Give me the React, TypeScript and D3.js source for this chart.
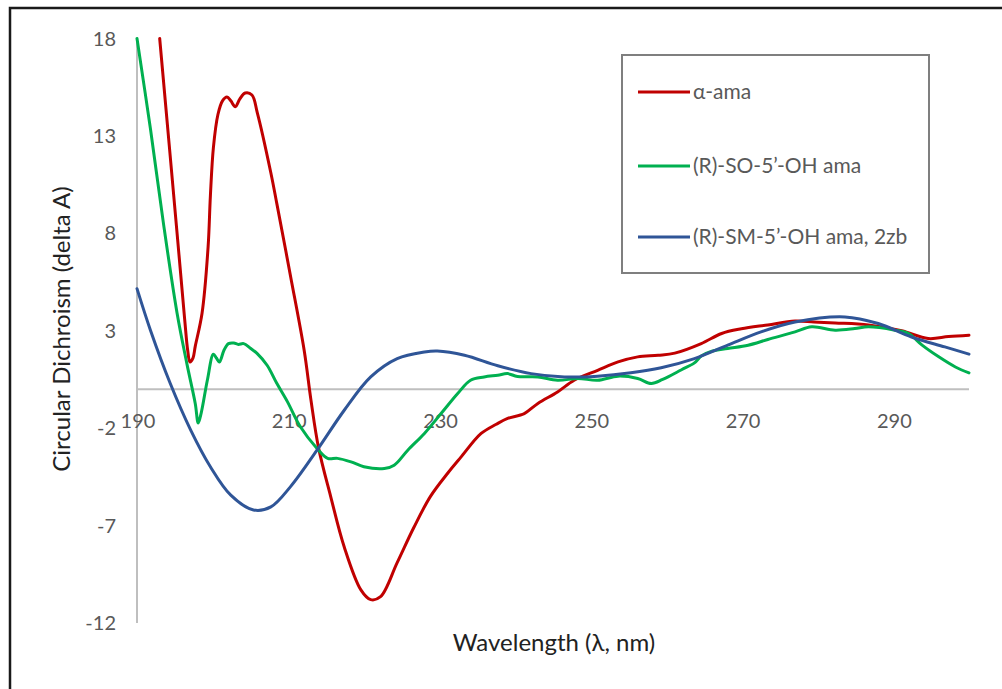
import React from 'react';
import * as d3 from 'd3';

// wavelength (nm) / CD value pairs
const redNm = [193.0, 195.3, 196.3, 196.7, 197.0, 197.4, 197.7, 198.6, 199.4, 199.7, 200.1, 200.7, 201.3, 201.9, 202.4, 203.0, 203.6, 204.3, 205.2, 205.9, 207.7, 208.5, 210.3, 212.1, 213.0, 214.0, 215.6, 217.4, 219.6, 220.9, 222.2, 224.4, 226.6, 228.8, 231.1, 232.8, 235.5, 237.5, 239.0, 241.2, 243.0, 245.6, 247.8, 250.9, 253.6, 256.2, 258.9, 261.1, 264.6, 267.3, 269.9, 273.4, 277.0, 279.5, 282.3, 286.7, 291.1, 294.6, 297.3, 300.0];
const redVal = [18.0, 8.0, 3.6, 2.0, 1.4, 1.6, 2.2, 3.9, 7.3, 9.9, 12.4, 14.1, 14.8, 15.0, 14.8, 14.5, 14.9, 15.2, 15.1, 14.2, 11.1, 9.5, 5.8, 2.0, -0.56, -3.0, -5.5, -8.1, -10.3, -10.8, -10.65, -8.9, -7.1, -5.5, -4.3, -3.5, -2.27, -1.8, -1.5, -1.25, -0.73, -0.14, 0.46, 0.97, 1.4, 1.66, 1.74, 1.85, 2.34, 2.86, 3.1, 3.3, 3.5, 3.45, 3.4, 3.3, 3.0, 2.6, 2.7, 2.77];

const greenNm = [190.0, 191.8, 193.5, 195.3, 196.6, 197.7, 198.1, 198.5, 199.3, 200.1, 200.5, 200.9, 201.5, 202.1, 202.8, 203.4, 204.1, 205.0, 205.9, 207.2, 208.5, 209.9, 211.6, 213.8, 215.2, 216.5, 218.3, 220.0, 222.7, 224.0, 225.8, 228.0, 230.2, 232.4, 234.1, 235.9, 237.7, 239.0, 240.3, 243.0, 245.6, 248.3, 250.9, 253.6, 256.2, 258.0, 259.5, 262.0, 263.7, 264.6, 266.0, 268.1, 270.8, 273.4, 277.0, 279.2, 282.3, 284.9, 286.7, 290.2, 292.0, 293.8, 296.0, 298.2, 300.0];
const greenVal = [18.0, 13.3, 8.5, 3.9, 1.3, -0.73, -1.73, -1.2, 0.46, 1.8, 1.6, 1.4, 2.0, 2.34, 2.37, 2.3, 2.34, 2.1, 1.83, 1.23, 0.29, -0.65, -1.93, -3.04, -3.55, -3.55, -3.73, -3.98, -4.07, -3.9, -3.13, -2.27, -1.25, -0.22, 0.46, 0.63, 0.72, 0.8, 0.65, 0.63, 0.46, 0.55, 0.46, 0.67, 0.55, 0.29, 0.5, 1.0, 1.35, 1.7, 1.95, 2.09, 2.26, 2.55, 2.94, 3.2, 3.03, 3.11, 3.2, 3.03, 2.86, 2.26, 1.66, 1.14, 0.84];

const blueNm = [190.0, 191.8, 194.4, 197.1, 199.7, 202.4, 205.4, 207.7, 210.3, 213.8, 217.4, 220.9, 224.4, 228.0, 229.7, 233.3, 237.7, 242.1, 246.5, 250.9, 255.3, 259.3, 263.7, 268.1, 272.5, 277.0, 283.6, 288.0, 292.4, 296.8, 300.0];
const blueVal = [5.16, 3.0, 0.29, -2.1, -3.98, -5.44, -6.2, -6.04, -5.0, -3.13, -1.08, 0.63, 1.57, 1.91, 1.96, 1.74, 1.2, 0.8, 0.63, 0.67, 0.84, 1.1, 1.57, 2.26, 2.94, 3.45, 3.71, 3.37, 2.68, 2.17, 1.8];

const seriesNames = ['α-ama', '(R)-SO-5’-OH ama', '(R)-SM-5’-OH ama, 2zb'];
const seriesColors = ['#C00000', '#00B050', '#2F5597'];

const xTicks = [190, 210, 230, 250, 270, 290];
const yTicks = [18, 13, 8, 3, -2, -7, -12];

const W = 1002;
const H = 689;

export default function App() {
  const x = d3.scaleLinear().domain([190, 300]).range([137, 969]);
  const y = d3.scaleLinear().domain([-12, 18]).range([623, 38.5]);

  const series = [
    { nm: redNm, val: redVal },
    { nm: greenNm, val: greenVal },
    { nm: blueNm, val: blueVal },
  ];

  const line = d3
    .line<[number, number]>()
    .x((d) => x(d[0]))
    .y((d) => y(d[1]))
    .curve(d3.curveCatmullRom.alpha(0.5));

  const font = 'Lato, "Open Sans", sans-serif';
  const gray = '#595959';

  return (
    <svg width={W} height={H} style={{ position: 'absolute', left: 0, top: 0, background: '#fff' }}>
      <defs>
        <clipPath id="plot">
          <rect x={x(190) - 2} y={y(18) - 2} width={x(300) - x(190) + 4} height={y(-12) - y(18) + 4} />
        </clipPath>
      </defs>

      {/* outer frame */}
      <rect x={10} y={8} width={1010} height={700} fill="none" stroke="#1a1a1a" strokeWidth={2.5} />

      {/* axes */}
      <line x1={x(190)} x2={x(190)} y1={y(18)} y2={y(-12)} stroke="#BFBFBF" strokeWidth={2} />
      <line x1={x(190)} x2={x(300)} y1={y(0)} y2={y(0)} stroke="#BFBFBF" strokeWidth={2} />

      {yTicks.map((t) => (
        <text key={t} x={116} y={y(t)} dy="0.35em" textAnchor="end" fontFamily={font} fontSize={20} fill={gray}>
          {t}
        </text>
      ))}
      {xTicks.map((t) => (
        <text key={t} x={x(t) + 1} y={421} dy="0.35em" textAnchor="middle" fontFamily={font} fontSize={20} fill={gray}>
          {t}
        </text>
      ))}

      {/* series */}
      <g clipPath="url(#plot)">
        {series.map((s, i) => (
          <path
            key={i}
            d={line(s.nm.map((n, j) => [n, s.val[j]] as [number, number])) || ''}
            fill="none"
            stroke={seriesColors[i]}
            strokeWidth={3}
            strokeLinejoin="round"
            strokeLinecap="round"
          />
        ))}
      </g>

      {/* axis titles */}
      <text x={554} y={643} dy="0.35em" textAnchor="middle" fontFamily={font} fontSize={24} fill="#222">
        Wavelength (λ, nm)
      </text>
      <text
        transform={`translate(62,329) rotate(-90)`}
        dy="0.35em"
        textAnchor="middle"
        fontFamily={font}
        fontSize={24}
        fill="#222"
      >
        Circular Dichroism (delta A)
      </text>

      {/* legend */}
      <rect x={622} y={55} width={307} height={218} fill="#fff" stroke="#7F7F7F" strokeWidth={2} />
      {seriesNames.map((name, i) => {
        const ly = [92, 166, 237][i];
        return (
          <g key={name}>
            <line x1={638} x2={690} y1={ly} y2={ly} stroke={seriesColors[i]} strokeWidth={3} />
            <text x={693} y={ly} dy="0.35em" fontFamily={font} fontSize={21} fill={gray}>
              {name}
            </text>
          </g>
        );
      })}
    </svg>
  );
}
